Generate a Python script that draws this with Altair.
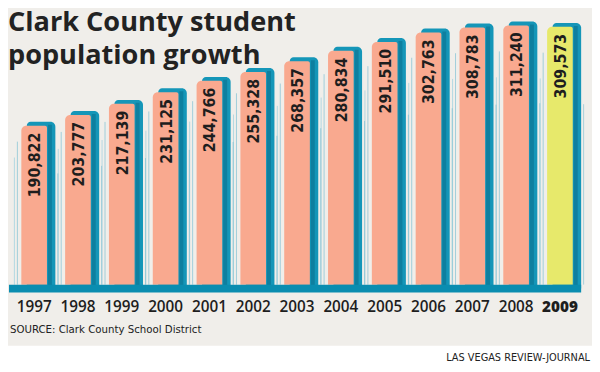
import altair as alt
import pandas as pd

years = ["1997", "1998", "1999", "2000", "2001", "2002", "2003",
         "2004", "2005", "2006", "2007", "2008", "2009"]
students = [190822, 203777, 217139, 231125, 244766, 255328, 268357,
            280834, 291510, 302763, 308783, 311240, 309573]
highlight_year = "2009"

title_line1 = "Clark County student"
title_line2 = "population growth"
source_text = "SOURCE: Clark County School District"
credit_text = "LAS VEGAS REVIEW-JOURNAL"

df = pd.DataFrame({"year": years, "students": students})
df["hl"] = df["year"] == highlight_year

BG = "#f0eeea"
TEAL = "#1596b8"
TEAL_DARK = "#0e7f9f"
SALMON = "#f9a98f"
YELLOW = "#e7e96b"
BASE = "#0a8db0"
COND = "DejaVu Sans Condensed, Liberation Sans Narrow, sans-serif"

x_enc = alt.X("year:N", axis=None,
              scale=alt.Scale(type="band", paddingInner=0, paddingOuter=0,
                              range=[4.3, 581.7]))
y_scale = alt.Scale(domain=[0, 317500], nice=False, zero=True)

base = alt.Chart(df)


def stroke(frac, color, opacity, offset):
    return base.transform_calculate(top=f"datum.students * {frac}").mark_rule(
        color=color, strokeWidth=1, opacity=opacity, xOffset=offset
    ).encode(x=x_enc, y=alt.Y("top:Q", scale=y_scale, axis=None), y2=alt.datum(0))


strokes1 = stroke(0.9, "#5fb3cc", 0.55, -17)
strokes2 = stroke(0.8, "#8ccbdc", 0.6, -20)
strokes3 = stroke(0.7, "#5fb3cc", 0.5, 24)

shadow = base.mark_bar(
    width=29, xOffset=7, yOffset=-4, y2Offset=4, color=TEAL,
    cornerRadiusTopLeft=4, cornerRadiusTopRight=5
).encode(x=x_enc, y=alt.Y("students:Q", scale=y_scale, axis=None), y2=alt.datum(0))

stripe = base.mark_bar(
    width=4, xOffset=16, yOffset=-1, y2Offset=4, color=TEAL_DARK
).encode(x=x_enc, y=alt.Y("students:Q", scale=y_scale, axis=None), y2=alt.datum(0))

bars = base.mark_bar(
    width=26, cornerRadiusTopLeft=5, cornerRadiusTopRight=2
).encode(
    x=x_enc,
    y=alt.Y("students:Q", scale=y_scale, axis=None),
    y2=alt.datum(0),
    color=alt.condition("datum.hl", alt.value(YELLOW), alt.value(SALMON)),
)

baseline = alt.Chart(pd.DataFrame({"v": [0]})).mark_rule(
    color=BASE, strokeWidth=8, yOffset=4
).encode(y=alt.Y("v:Q", scale=y_scale, axis=None), x=alt.value(1), x2=alt.value(581))

values = base.mark_text(
    angle=270, align="right", baseline="middle", yOffset=7, xOffset=1,
    font=COND, fontSize=16, fontWeight="bold", color="#1e1e1e"
).encode(
    x=x_enc,
    y=alt.Y("students:Q", scale=y_scale, axis=None),
    text=alt.Text("students:Q", format=","),
)

year_lbl = base.transform_filter("!datum.hl").mark_text(
    baseline="middle", font="Open Sans", fontSize=15.5, fontWeight=600, color="#1e1e1e"
).encode(x=x_enc, y=alt.value(291), text="year:N")

year_hl = base.transform_filter("datum.hl").mark_text(
    baseline="middle", font="Open Sans", fontSize=15.5, fontWeight=800, color="#1e1e1e"
).encode(x=x_enc, y=alt.value(291), text="year:N")

title1 = alt.Chart(pd.DataFrame({"t": [title_line1]})).mark_text(
    align="left", baseline="alphabetic", font="Open Sans", fontSize=27.5,
    fontWeight="bold", color="#222222"
).encode(x=alt.value(0), y=alt.value(11), text="t:N")

title2 = alt.Chart(pd.DataFrame({"t": [title_line2]})).mark_text(
    align="left", baseline="alphabetic", font="Open Sans", fontSize=27.5,
    fontWeight="bold", color="#222222"
).encode(x=alt.value(0), y=alt.value(44), text="t:N")

white = alt.Chart(pd.DataFrame({"a": [0]})).mark_rect(color="white").encode(
    x=alt.value(-10), x2=alt.value(610), y=alt.value(330), y2=alt.value(360))

source = alt.Chart(pd.DataFrame({"t": [source_text]})).mark_text(
    align="left", baseline="middle", font=COND, fontSize=11.5, color="#222222"
).encode(x=alt.value(2), y=alt.value(314), text="t:N")

credit = alt.Chart(pd.DataFrame({"t": [credit_text]})).mark_text(
    align="right", baseline="middle", font=COND, fontSize=11, color="#222222"
).encode(x=alt.value(590), y=alt.value(342), text="t:N")

chart = alt.layer(
    white, strokes1, strokes2, strokes3, shadow, stripe, bars, baseline,
    values, year_lbl, year_hl, title1, title2, source, credit
).properties(
    width=584, height=268,
    padding={"left": 0, "top": 10, "right": 8, "bottom": 78},
    autosize=alt.AutoSizeParams(type="none"),
    background=BG,
).configure_view(stroke=None)

chart.save("out.html", embed_options={"renderer": "svg", "actions": False})
